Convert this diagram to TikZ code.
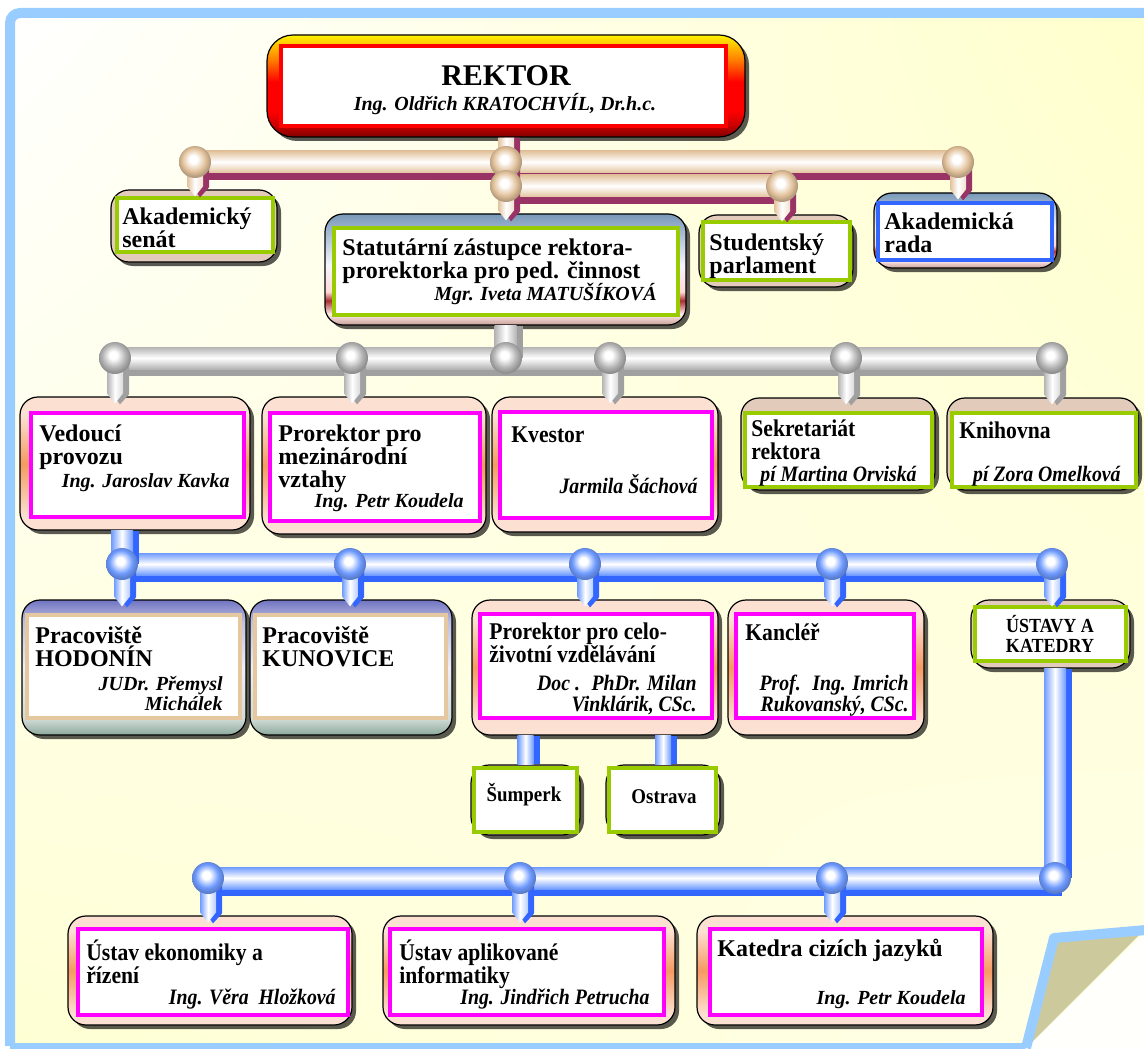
\documentclass[tikz,border=0pt]{standalone}
\usepackage{fontspec}
\setmainfont{Liberation Serif}
\newfontfamily\narrowserif{Liberation Serif}[FakeStretch=0.9]
\usetikzlibrary{calc,fit,shadows,shadings}

\definecolor{bgyellow}{HTML}{FFFFCC}
\definecolor{frameblue}{HTML}{99CCFF}
\definecolor{flaptan}{HTML}{CCCA9C}
\definecolor{shelltan}{HTML}{E3CBBB}
\definecolor{cardgreen}{HTML}{99CC00}
\definecolor{cardblue}{HTML}{3366FF}
\definecolor{cardpink}{HTML}{FF00FF}
\definecolor{cardred}{HTML}{FF0000}
\definecolor{cardsand}{HTML}{E6C8A0}
\definecolor{tanedge}{HTML}{E2C29C}
\definecolor{tanshadow}{HTML}{993366}
\definecolor{grayedge}{HTML}{B4B4B4}
\definecolor{grayshadow}{HTML}{A0A0A0}
\definecolor{blueedge}{HTML}{6F9BFF}
\definecolor{blueshadow}{HTML}{3366FF}
\definecolor{steeltop}{HTML}{7898B8}
\definecolor{steelred}{HTML}{A83030}
\definecolor{steelfoot}{HTML}{C8A098}
\definecolor{violettop}{HTML}{7074C0}
\definecolor{violetfoot}{HTML}{8CA89C}
\definecolor{peachmid}{HTML}{F59A62}
\definecolor{peachlight}{HTML}{FCE0D2}

% shell shadings (25bp = bottom, 75bp = top of the shape)
\pgfdeclareverticalshading{rektorshade}{100bp}{color(0bp)=(red!50!black); color(25bp)=(red!50!black);
  color(31bp)=(red!80!black); color(38bp)=(red); color(52bp)=(red); color(63bp)=(orange);
  color(75bp)=(yellow!90!orange); color(100bp)=(yellow!90!orange)}
\pgfdeclareverticalshading{steelshade}{100bp}{color(0bp)=(steelfoot); color(25bp)=(steelfoot);
  color(30bp)=(white!92!red); color(36bp)=(steelred); color(40bp)=(white!85!red);
  color(52bp)=(white!96!blue); color(75bp)=(steeltop); color(100bp)=(steeltop)}
\pgfdeclareverticalshading{violetshade}{100bp}{color(0bp)=(violetfoot); color(25bp)=(violetfoot);
  color(31bp)=(violetfoot!40!white); color(50bp)=(violettop!12!white); color(67bp)=(violettop!45!white);
  color(75bp)=(violettop); color(100bp)=(violettop)}
\pgfdeclareverticalshading{peachshade}{100bp}{color(0bp)=(peachlight); color(25bp)=(peachlight);
  color(30bp)=(peachlight); color(50bp)=(peachmid); color(68bp)=(peachlight); color(75bp)=(peachlight);
  color(100bp)=(peachlight)}
% knob shadings
\pgfdeclareradialshading{tanball}{\pgfpoint{-3bp}{5bp}}{color(0bp)=(white); color(6bp)=(white);
  color(18bp)=(tanedge); color(25bp)=(tanedge!80!black); color(50bp)=(tanedge!80!black)}
\pgfdeclareradialshading{grayball}{\pgfpoint{-3bp}{5bp}}{color(0bp)=(white); color(6bp)=(white);
  color(18bp)=(grayedge); color(25bp)=(grayedge!80!black); color(50bp)=(grayedge!80!black)}
\pgfdeclareradialshading{blueball}{\pgfpoint{-3bp}{5bp}}{color(0bp)=(white); color(6bp)=(white);
  color(18bp)=(blueedge); color(25bp)=(blueedge!80!black); color(50bp)=(blueedge!80!black)}

\newcommand\boxtitle{\fontsize{12}{11.5}\selectfont\bfseries}
\newcommand\boxwho{\fontsize{10}{11}\selectfont\bfseries\itshape}

% horizontal tube between two points
\newcommand\bus[3]{%
  \fill[#3shadow] ($(#1)+(0,-2)$) rectangle ($(#2)+(7,18)$);
  \shade[top color=#3edge, bottom color=#3edge, middle color=white] ($(#1)+(0,-11)$) rectangle ($(#2)+(0,11)$);}
% pointed tube down into a box
\newcommand\drop[3]{%
  \coordinate (tip) at ($(#1 |- #2)+(0,7)$);
  \fill[#3shadow] ($(#1)+(-2,0)$) -- ($(tip)+(-2,-9)$) -- ($(tip)+(5,1)$) -- ($(tip)+(14,-9)$) -- ($(#1)+(14,0)$) -- cycle;
  \shade[left color=#3edge, right color=#3edge!50!white, middle color=white] ($(#1)+(-8,0)$) -- ($(tip)+(-8,-10)$)
    -- (tip) -- ($(tip)+(8,-10)$) -- ($(#1)+(8,0)$) -- cycle;}
% plain vertical tube
\newcommand\pipe[4][11]{%
  \fill[#4shadow] ($(#2)+(-#1+6,0)$) rectangle ($(#2 |- #3)+(#1+6,0)$);
  \shade[left color=#4edge, right color=#4edge, middle color=white] ($(#2)+(-#1,0)$) rectangle ($(#2 |- #3)+(#1,0)$);}

\begin{document}
\begin{tikzpicture}[x=0.5pt, y=-0.5pt,
  shell/.style={draw=black, line width=.6pt, rounded corners=9pt, inner sep=0pt,
    drop shadow={shadow xshift=2pt, shadow yshift=-2pt, fill=black, opacity=.65}},
  tanshell/.style={shell, fill=shelltan},
  steelshell/.style={shell, shading=steelshade},
  violetshell/.style={shell, shading=violetshade},
  peachshell/.style={shell, shading=peachshade},
  rektorshell/.style={shell, rounded corners=13pt, shading=rektorshade},
  card/.style={draw=#1, line width=1.7pt, fill=white, inner sep=0pt},
  title/.style={anchor=north west, inner sep=0pt, align=left, font=\boxtitle},
  ntitle/.style={title, font=\narrowserif\boxtitle},
  who/.style={anchor=base east, inner sep=0pt, font=\boxwho},
  nwho/.style={who, font=\narrowserif\fontsize{11}{12}\selectfont\bfseries\itshape},
  knob/.style={circle, minimum size=16pt, inner sep=0pt, shading=#1ball},
]
\useasboundingbox (0,0) rectangle (1144,1048);

% page with frame and turned corner
\shade[upper left=white, upper right=bgyellow, lower left=bgyellow!85!white, lower right=bgyellow!45!white]
  (10,13) rectangle (1144,1048);
\draw[frameblue, line width=5pt, rounded corners=5pt] (10,1046) -- (10,13) -- (1160,13);
\draw[frameblue, line width=3pt] (10,1046) -- (1030,1046);
\fill[white!94!bgyellow] (1024,1050) -- (1150,1050) -- (1150,928) -- cycle;
\fill[flaptan] (1030,1044) -- (1056,940) -- (1142,932) -- cycle;
\draw[frameblue, line width=5pt, line join=round] (1026,1048) -- (1054,938) -- (1146,930);

% REKTOR
\node[rektorshell, fit={(267,35) (745,137)}] (rektor) {};
\node[card=cardred, line width=2.2pt, fit={(281,46) (726,126)}] (rektor-in) {};
\node[font=\fontsize{15}{15}\selectfont\bfseries] (rektor-t) at (506,76) {REKTOR};
\node[font=\fontsize{10}{10}\selectfont\bfseries\itshape] (rektor-w) at (505,104) {Ing. Oldřich KRATOCHVÍL, Dr.h.c.};

% second level
\node[tanshell, fit={(111,190) (277,262)}] (senat) {};
\node[card=cardgreen, fit={(117,198) (273,252)}] (senat-in) {};
\node[title] (senat-t) at (122,207) {Akademický\\senát};

\node[steelshell, fit={(325,214) (686,325)}] (stat) {};
\node[card=cardgreen, fit={(334,228) (678,315)}] (stat-in) {};
\node[title] (stat-t) at (342,238) {Statutární zástupce rektora-\\prorektorka pro ped. činnost};
\node[who] (stat-w) at (657,300) {Mgr. Iveta MATUŠÍKOVÁ};

\node[tanshell, fit={(699,215) (853,287)}] (stud) {};
\node[card=cardgreen, fit={(703,222) (850,280)}] (stud-in) {};
\node[title] (stud-t) at (709,233) {Studentský\\parlament};

\node[steelshell, fit={(874,193) (1057,268)}] (rada) {};
\node[card=cardblue, fit={(878,203) (1052,260)}] (rada-in) {};
\node[title] (rada-t) at (884,212) {Akademická\\rada};

% third level
\node[peachshell, fit={(20,397) (250,530)}] (ved) {};
\node[card=cardpink, fit={(31,413) (244,517)}] (ved-in) {};
\node[title] (ved-t) at (39,424) {Vedoucí\\provozu};
\node[who] (ved-w) at (230,487) {Ing. Jaroslav Kavka};

\node[peachshell, fit={(262,397) (486,534)}] (mez) {};
\node[card=cardpink, fit={(270,413) (480,521)}] (mez-in) {};
\node[title] (mez-t) at (278,424) {Prorektor pro\\mezinárodní\\vztahy};
\node[who] (mez-w) at (464,507) {Ing. Petr Koudela};

\node[peachshell, fit={(492,397) (718,532)}] (kvestor) {};
\node[card=cardpink, fit={(500,412) (712,518)}] (kvestor-in) {};
\node[ntitle] (kvestor-t) at (511,426) {Kvestor};
\node[nwho] (kvestor-w) at (698,493) {Jarmila Šáchová};

\node[tanshell, fit={(741,398) (935,490)}] (sekr) {};
\node[card=cardgreen, fit={(745,413) (932,487)}] (sekr-in) {};
\node[ntitle] (sekr-t) at (751,419) {Sekretariát\\rektora};
\node[nwho] (sekr-w) at (917,481) {pí Martina Orviská};

\node[tanshell, fit={(947,398) (1138,490)}] (knih) {};
\node[card=cardgreen, fit={(952,413) (1136,487)}] (knih-in) {};
\node[ntitle] (knih-t) at (959,421) {Knihovna};
\node[nwho] (knih-w) at (1121,481) {pí Zora Omelková};

% fourth level
\node[violetshell, fit={(22,600) (246,735)}] (hod) {};
\node[card=cardsand, fit={(27,615) (240,718)}] (hod-in) {};
\node[title] (hod-t) at (35,626) {Pracoviště\\HODONÍN};
\node[who] (hod-w1) at (223,690) {JUDr. Přemysl};
\node[who] (hod-w2) at (223,710) {Michálek};

\node[violetshell, fit={(250,600) (452,735)}] (kun) {};
\node[card=cardsand, fit={(255,615) (446,718)}] (kun-in) {};
\node[title] (kun-t) at (262,626) {Pracoviště\\KUNOVICE};

\node[peachshell, fit={(472,600) (718,735)}] (celo) {};
\node[card=cardpink, fit={(480,614) (712,718)}] (celo-in) {};
\node[ntitle] (celo-t) at (489,622) {Prorektor pro celo-\\životní vzdělávání};
\node[nwho] (celo-w1) at (697,690) {Doc .~ PhDr. Milan};
\node[nwho] (celo-w2) at (697,711) {Vinklárik, CSc.};

\node[peachshell, fit={(728,600) (924,735)}] (kanc) {};
\node[card=cardpink, fit={(736,614) (914,718)}] (kanc-in) {};
\node[ntitle] (kanc-t) at (745,623) {Kancléř};
\node[nwho] (kanc-w1) at (909,690) {Prof.~ Ing. Imrich};
\node[nwho] (kanc-w2) at (909,711) {Rukovanský, CSc.};

\node[tanshell, fit={(971,600) (1130,668)}] (ustavy) {};
\node[card=cardgreen, fit={(975,607) (1126,661)}] (ustavy-in) {};
\node[align=center, font=\narrowserif\fontsize{10}{10}\selectfont\bfseries] (ustavy-t) at (1050,634) {ÚSTAVY A\\KATEDRY};

\node[tanshell, fit={(471,765) (580,835)}] (sump) {};
\node[card=cardgreen, fit={(474,768) (577,832)}] (sump-in) {};
\node[font=\narrowserif\fontsize{10.5}{10}\selectfont\bfseries] (sump-t) at (524,795) {Šumperk};

\node[tanshell, fit={(606,765) (720,835)}] (ostr) {};
\node[card=cardgreen, fit={(609,768) (716,832)}] (ostr-in) {};
\node[font=\narrowserif\fontsize{10.5}{10}\selectfont\bfseries] (ostr-t) at (664,797) {Ostrava};

% institutes
\node[peachshell, fit={(68,916) (352,1025)}] (uek) {};
\node[card=cardpink, fit={(78,929) (348,1015)}] (uek-in) {};
\node[ntitle] (uek-t) at (86,939) {Ústav ekonomiky a\\řízení};
\node[nwho] (uek-w) at (336,1004) {Ing. Věra~ Hložková};

\node[peachshell, fit={(383,916) (675,1025)}] (uai) {};
\node[card=cardpink, fit={(390,929) (664,1015)}] (uai-in) {};
\node[ntitle] (uai-t) at (399,939) {Ústav aplikované\\informatiky};
\node[nwho] (uai-w) at (650,1004) {Ing. Jindřich Petrucha};

\node[peachshell, fit={(697,916) (993,1025)}] (kcj) {};
\node[card=cardpink, fit={(710,929) (982,1015)}] (kcj-in) {};
\node[title] (kcj-t) at (717,939) {Katedra cizích jazyků};
\node[who] (kcj-w) at (966,1004) {Ing. Petr Koudela};

% tube junctions
\foreach \n/\x/\y in {1/195/162, 2/506/162, 3/958/162, 4/506/186, 5/782/186}
  \coordinate (tb\n) at (\x,\y);
\foreach \n/\x in {1/115, 2/352, 3/506, 4/610, 5/846, 6/1052}
  \coordinate (gb\n) at (\x,358);
\foreach \n/\x in {1/122, 2/350, 3/585, 4/832, 5/1052}
  \coordinate (bb\n) at (\x,564);
\foreach \n/\x in {1/208, 2/520, 3/832, 4/1055}
  \coordinate (lb\n) at (\x,878);

% tan tubes
\bus{tb1}{tb3}{tan}
\bus{tb4}{tb5}{tan}
\drop{rektor.south}{stat.north}{tan}
\drop{tb1}{senat.north}{tan}
\drop{tb3}{rada.north}{tan}
\drop{tb5}{stud.north}{tan}

% gray tubes
\bus{gb1}{gb6}{gray}
\pipe{stat.south}{gb3}{gray}
\drop{gb1}{ved.north}{gray}
\drop{gb2}{mez.north}{gray}
\drop{gb4}{kvestor.north}{gray}
\drop{gb5}{sekr.north}{gray}
\drop{gb6}{knih.north}{gray}

% blue tubes
\bus{bb1}{bb5}{blue}
\pipe{bb1 |- ved.south}{bb1}{blue}
\drop{bb1}{hod.north}{blue}
\drop{bb2}{kun.north}{blue}
\drop{bb3}{celo.north}{blue}
\drop{bb4}{kanc.north}{blue}
\drop{bb5}{ustavy.north}{blue}
\pipe[8]{sump.north |- celo.south}{sump.north}{blue}
\pipe[8]{ostr.north |- celo.south}{ostr.north}{blue}
\pipe{lb4 |- ustavy.south}{lb4}{blue}
\bus{lb1}{lb4}{blue}
\drop{lb1}{uek.north}{blue}
\drop{lb2}{uai.north}{blue}
\drop{lb3}{kcj.north}{blue}

% knobs
\foreach \k in {tb1,tb2,tb3,tb4,tb5} \node[knob=tan] (\k-knob) at (\k) {};
\foreach \k in {gb1,gb2,gb3,gb4,gb5,gb6} \node[knob=gray] (\k-knob) at (\k) {};
\foreach \k in {bb1,bb2,bb3,bb4,bb5,lb1,lb2,lb3,lb4} \node[knob=blue] (\k-knob) at (\k) {};
\end{tikzpicture}
\end{document}
